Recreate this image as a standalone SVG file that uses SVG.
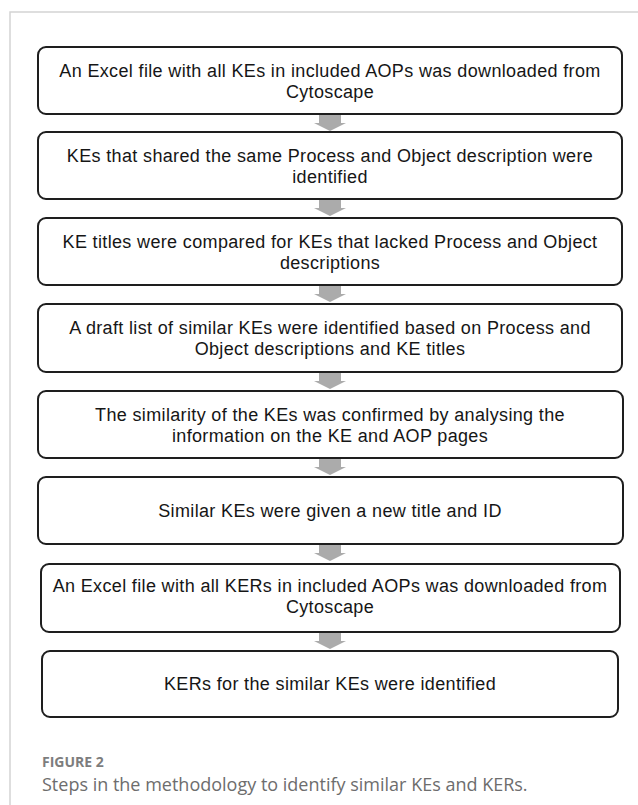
<svg xmlns="http://www.w3.org/2000/svg" width="638" height="805" viewBox="0 0 638 805">
  <style>
    .box { fill: #ffffff; stroke: #1e1e1e; stroke-width: 2; }
    .lbl { font-family: "Liberation Sans", Arial, sans-serif; font-size: 18px; letter-spacing: 0.35px; fill: #161616; text-anchor: middle; }
    .arrow { fill: #ababab; }
    .frame { fill: none; stroke: #d4d4d4; stroke-width: 1.5; }
    .cap-head { font-family: "Open Sans", "Liberation Sans", sans-serif; font-size: 14px; font-weight: bold; fill: #7d7d7d; }
    .cap-text { font-family: "Open Sans", "Liberation Sans", sans-serif; font-size: 18px; fill: #6d6d6d; }
  </style>
  <defs>
    <!-- block arrow pointing down, origin at top centre -->
    <path id="down" d="M -11 0 H 11 V 9 H 16 L 0 17 L -16 9 H -11 Z"/>
  </defs>

  <rect width="638" height="805" fill="#ffffff"/>
  <path class="frame" d="M 10 805 V 12 H 638"/>

  <g id="connectors">
    <use href="#down" class="arrow" x="330" y="114"/>
    <use href="#down" class="arrow" x="330" y="199"/>
    <use href="#down" class="arrow" x="330" y="285"/>
    <use href="#down" class="arrow" x="330" y="372"/>
    <use href="#down" class="arrow" x="330" y="458"/>
    <use href="#down" class="arrow" x="330" y="544"/>
    <use href="#down" class="arrow" x="330" y="632"/>
  </g>

  <g id="step1">
    <rect class="box" x="38" y="47" width="584" height="67" rx="8"/>
    <text class="lbl" x="330" y="77">An Excel file with all KEs in included AOPs was downloaded from</text>
    <text class="lbl" x="330" y="98">Cytoscape</text>
  </g>
  <g id="step2">
    <rect class="box" x="38" y="132" width="584" height="67" rx="8"/>
    <text class="lbl" x="330" y="162">KEs that shared the same Process and Object description were</text>
    <text class="lbl" x="330" y="183">identified</text>
  </g>
  <g id="step3">
    <rect class="box" x="38" y="218" width="584" height="67" rx="8"/>
    <text class="lbl" x="330" y="248">KE titles were compared for KEs that lacked Process and Object</text>
    <text class="lbl" x="330" y="269">descriptions</text>
  </g>
  <g id="step4">
    <rect class="box" x="38" y="304" width="584" height="68" rx="8"/>
    <text class="lbl" x="330" y="334">A draft list of similar KEs were identified based on Process and</text>
    <text class="lbl" x="330" y="355">Object descriptions and KE titles</text>
  </g>
  <g id="step5">
    <rect class="box" x="38" y="391" width="585" height="67" rx="8"/>
    <text class="lbl" x="330" y="421">The similarity of the KEs was confirmed by analysing the</text>
    <text class="lbl" x="330" y="442">information on the KE and AOP pages</text>
  </g>
  <g id="step6">
    <rect class="box" x="38" y="477" width="585" height="67" rx="8"/>
    <text class="lbl" x="330" y="517">Similar KEs were given a new title and ID</text>
  </g>
  <g id="step7">
    <rect class="box" x="41" y="564" width="579" height="68" rx="8"/>
    <text class="lbl" x="330" y="592">An Excel file with all KERs in included AOPs was downloaded from</text>
    <text class="lbl" x="330" y="613">Cytoscape</text>
  </g>
  <g id="step8">
    <rect class="box" x="42" y="651" width="576" height="66" rx="8"/>
    <text class="lbl" x="330" y="690">KERs for the similar KEs were identified</text>
  </g>

  <g id="caption">
    <text class="cap-head" x="42" y="767">FIGURE 2</text>
    <text class="cap-text" x="42" y="791">Steps in the methodology to identify similar KEs and KERs.</text>
  </g>
</svg>
